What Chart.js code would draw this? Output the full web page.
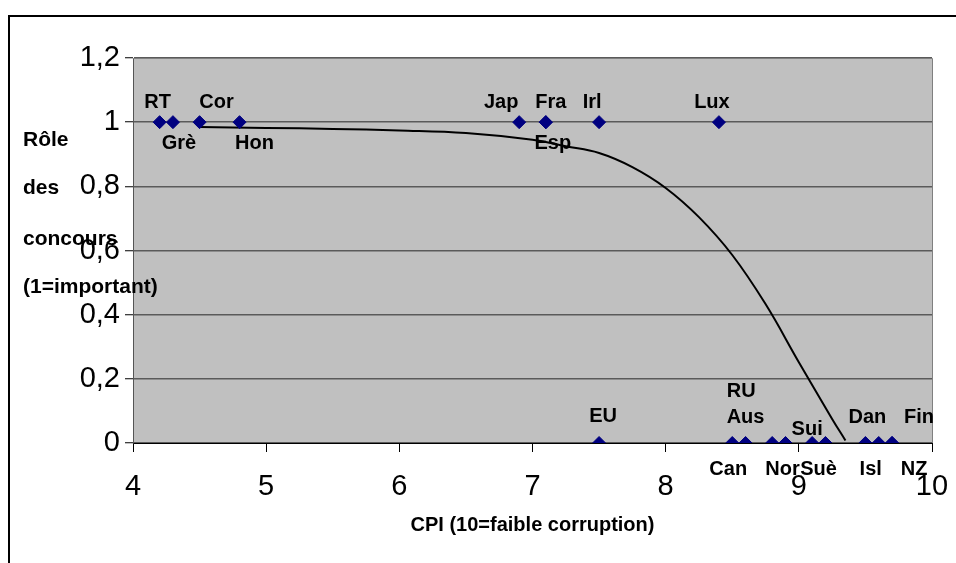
<!DOCTYPE html>
<html>
<head>
<meta charset="utf-8">
<script src="https://cdn.jsdelivr.net/npm/chart.js@4.4.1/dist/chart.umd.min.js"></script>
<style>
  html, body { margin: 0; padding: 0; background: #ffffff; }
  #wrap { width: 956px; height: 563px; }
</style>
</head>
<body>
<div id="wrap"><canvas id="c" width="956" height="563"></canvas></div>
<script>
// ---- Data ----
const countries = ['RT','Grè','Cor','Hon','Jap','Fra','Esp','Irl','Lux','EU','Can','Aus','RU','Nor','Sui','Suè','Dan','Isl','Fin','NZ'];
const cpi       = [4.2, 4.3, 4.5, 4.8, 6.9, 7.1, 7.1, 7.5, 8.4, 7.5, 8.5, 8.6, 8.8, 8.9, 9.1, 9.2, 9.5, 9.6, 9.7, 9.7];
const role      = [1,   1,   1,   1,   1,   1,   1,   1,   1,   0,   0,   0,   0,   0,   0,   0,   0,   0,   0,   0];

// fitted trend curve
const curveX = [4.5,   5.0,   5.5,   6.0,   6.5,   7.0,   7.25,  7.5,   7.75, 8.0,   8.25,  8.5,   8.75,  9.0,   9.25,  9.35];
const curveY = [0.985, 0.982, 0.979, 0.974, 0.966, 0.945, 0.925, 0.904, 0.86, 0.795, 0.704, 0.586, 0.433, 0.252, 0.075, 0.008];

const xTicks = [4, 5, 6, 7, 8, 9, 10];
const yTicks = [0, 0.2, 0.4, 0.6, 0.8, 1, 1.2];

const xTitle = 'CPI (10=faible corruption)';
const yTitleLines = ['Rôle', 'des', 'concours', '(1=important)'];

// ---- Label layout (pixel offsets of each data label from its point) ----
const labelOffsets = [
  [-2,-20],[6,21],[17,-20],[15,21],[-18,-20],[5,-20],[7,21],[-7,-20],[-7,-20],
  [4,-27],[-4,26],[0,-26],[-31,-52],[-3,26],[-5,-14],[-7,26],[2,-26],[-8,26],[27,-26],[22,26]
];

const FONT = "'Liberation Sans', Arial, sans-serif";
Chart.defaults.color = '#000';
Chart.defaults.font.family = FONT;

const fmt = v => {
  const r = Math.round(v * 10) / 10;
  return String(r).replace('.', ',');
};

const bgPlugin = {
  id: 'bg',
  beforeDraw(chart) {
    const ctx = chart.ctx, a = chart.chartArea;
    ctx.save();
    ctx.fillStyle = '#ffffff';
    ctx.fillRect(0, 0, chart.width, chart.height);
    ctx.fillStyle = '#000000';
    ctx.fillRect(8, 15, 2, chart.height - 15);
    ctx.fillRect(8, 15, chart.width - 8, 2);
    ctx.fillStyle = '#c0c0c0';
    ctx.fillRect(a.left, a.top, a.right - a.left, a.bottom - a.top);
    ctx.restore();
  },
  beforeDatasetsDraw(chart) {
    const ctx = chart.ctx, a = chart.chartArea;
    ctx.save();
    ctx.strokeStyle = '#808080';
    ctx.lineWidth = 1;
    ctx.beginPath();
    ctx.moveTo(a.left, a.top + 0.5);
    ctx.lineTo(a.right + 0.5, a.top + 0.5);
    ctx.lineTo(a.right + 0.5, a.bottom);
    ctx.stroke();
    ctx.restore();
  },
  afterDraw(chart) {
    const ctx = chart.ctx;
    ctx.save();
    ctx.fillStyle = '#000';
    ctx.font = 'bold 21px ' + FONT;
    ctx.textAlign = 'left';
    ctx.textBaseline = 'alphabetic';
    const baselines = [146, 194, 245, 293];
    yTitleLines.forEach((t, i) => ctx.fillText(t, 23, baselines[i]));
    ctx.restore();
  }
};

const labelPlugin = {
  id: 'ptLabels',
  afterDatasetsDraw(chart) {
    const ctx = chart.ctx;
    const meta = chart.getDatasetMeta(0);
    ctx.save();
    ctx.fillStyle = '#000';
    ctx.font = 'bold 20px ' + FONT;
    ctx.textAlign = 'center';
    ctx.textBaseline = 'middle';
    meta.data.forEach((pt, i) => {
      const off = labelOffsets[i];
      ctx.fillText(countries[i], pt.x + off[0], pt.y + off[1]);
    });
    ctx.restore();
  }
};

new Chart(document.getElementById('c'), {
  type: 'scatter',
  data: {
    datasets: [
      {
        label: 'pays',
        data: cpi.map((x, i) => ({ x: x, y: role[i] })),
        pointStyle: 'rectRot',
        pointRadius: 6.5,
        pointHoverRadius: 6.5,
        backgroundColor: '#000080',
        borderColor: '#000080',
        borderWidth: 1,
        order: 0
      },
      {
        label: 'tendance',
        data: curveX.map((x, i) => ({ x: x, y: curveY[i] })),
        showLine: true,
        pointRadius: 0,
        borderColor: '#000000',
        borderWidth: 2,
        tension: 0.4,
        fill: false,
        order: 1
      }
    ]
  },
  options: {
    responsive: false,
    animation: false,
    events: [],
    layout: { padding: { top: 58, right: 24, left: 0, bottom: 0 } },
    plugins: { legend: { display: false }, tooltip: { enabled: false } },
    scales: {
      x: {
        type: 'linear',
        min: xTicks[0],
        max: xTicks[xTicks.length - 1],
        afterBuildTicks: s => { s.ticks = xTicks.map(v => ({ value: v })); },
        afterFit: s => { s.height = 120; s.paddingLeft = 0; s.paddingRight = 0; },
        ticks: {
          font: { size: 29 },
          color: '#000',
          padding: 18,
          maxRotation: 0,
          callback: v => String(v)
        },
        grid: {
          drawOnChartArea: false,
          drawTicks: true,
          tickLength: 9,
          tickColor: '#000',
          tickWidth: 1
        },
        border: { display: true, color: '#000', width: 1 },
        title: {
          display: true,
          text: xTitle,
          font: { size: 20, weight: 'bold' },
          color: '#000',
          padding: { top: 0, bottom: 26 }
        }
      },
      y: {
        type: 'linear',
        min: yTicks[0],
        max: yTicks[yTicks.length - 1],
        afterBuildTicks: s => { s.ticks = yTicks.map(v => ({ value: v })); },
        afterFit: s => { s.width = 133; s.paddingTop = 0; s.paddingBottom = 0; },
        ticks: {
          font: { size: 29 },
          color: '#000',
          padding: 5,
          callback: v => fmt(v)
        },
        grid: {
          color: '#5a5a5a',
          lineWidth: 1.5,
          drawTicks: true,
          tickLength: 8,
          tickColor: '#000',
          tickWidth: 1
        },
        border: { display: true, color: '#555', width: 1 }
      }
    }
  },
  plugins: [bgPlugin, labelPlugin]
});
</script>
</body>
</html>
